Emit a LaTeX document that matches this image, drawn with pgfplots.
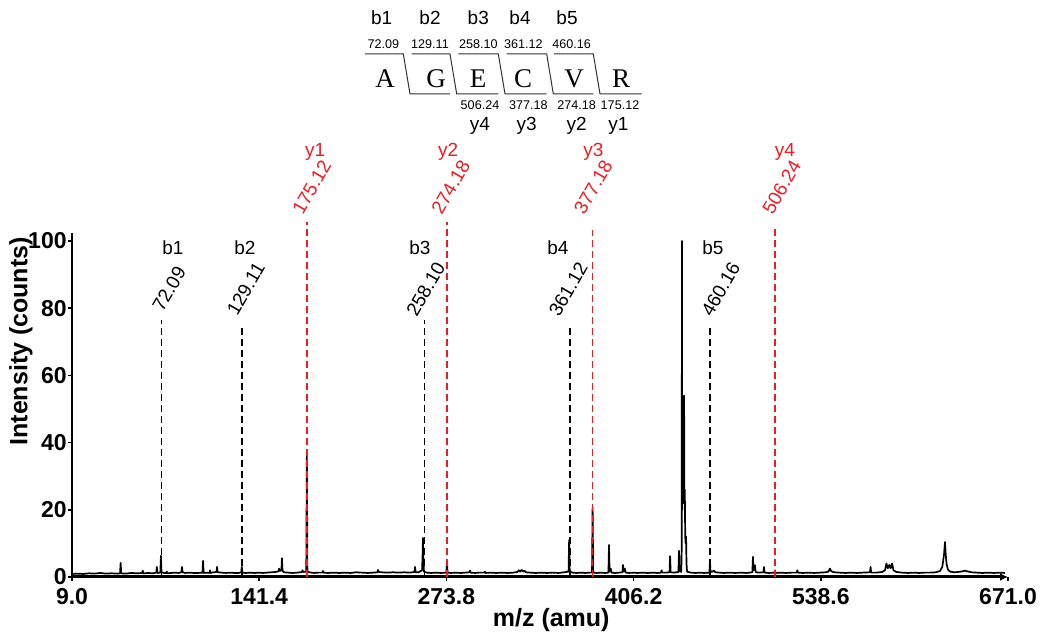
\documentclass[border=0pt]{standalone}
\usepackage{fontspec}
\setmainfont{Liberation Sans}
\newfontfamily\seriffont{Liberation Serif}
\usepackage{pgfplots}
\pgfplotsset{compat=1.18}
\usetikzlibrary{arrows.meta}
\definecolor{ionred}{RGB}{237,28,36}
\definecolor{diag}{RGB}{50,50,50}

\begin{document}
\begin{tikzpicture}
% page = 1053 x 635 px at 0.5pt per px, axis corner at px (72,577)
\useasboundingbox (-36pt,-29pt) rectangle (490.5pt,288.5pt);

\begin{axis}[
  scale only axis, width=468pt, height=172pt,
  xmin=9, xmax=671, ymin=0, ymax=102.4,
  axis lines=left, clip=false,
  x axis line style={line width=1.5pt, -{Latex[length=4pt,width=4pt]}},
  y axis line style={line width=0.9pt, -},
  xtick={9,141.4,273.8,406.2,538.6,671},
  xticklabels={9.0,141.4,273.8,406.2,538.6,671.0},
  ytick={0,20,40,60,80,100},
  tick align=outside, major tick length=2pt,
  tick style={black, line width=0.8pt},
  /pgf/number format/assume math mode=true,
  ticklabel style={font=\fontsize{11.5}{12}\selectfont\bfseries},
  yticklabel style={inner sep=0.5pt},
  xticklabel style={inner sep=0pt, yshift=-3.5pt},
  xlabel={m/z (amu)}, ylabel={Intensity (counts)},
  xlabel style={font=\fontsize{12.5}{13}\selectfont\bfseries,
    at={(axis description cs:0.512,-0.125)}, anchor=center},
  ylabel style={font=\fontsize{12.5}{13}\selectfont\bfseries,
    at={(axis description cs:-0.0545,0.685)}, anchor=center},
  ann/.style={line width=0.7pt, dash pattern=on 3.5pt off 2pt},
]

% spectrum
\addplot[black, line width=0.85pt, line join=round] coordinates {
(9,0.9)(13,1.0)(17,0.9)(21,1.1)(25,1.0)(29,1.2)(33,1.0)(37,1.1)(41,1.0)
(43.0,1.1)(43.4,4.2)(43.8,1.1)(47,1.0)(51,1.2)(55,1.1)
(58.6,1.2)(59,1.9)(59.4,1.1)(63,1.2)(66,1.1)
(68.6,1.3)(69,3.0)(69.4,1.2)(71.5,1.3)(71.9,6.3)(72.3,1.4)
(74,1.2)(75.6,1.2)(76,1.6)(76.4,1.1)(79,1.2)(82,1.3)(84.5,1.2)
(86.4,1.4)(86.8,3.0)(87.2,1.4)(89,1.2)(92,1.3)(95,1.2)(98,1.2)
(101.3,1.3)(101.7,4.8)(102.1,1.2)(104,1.3)(106.2,1.2)(106.6,2.0)(107,1.2)
(109,1.4)(111.2,1.5)(111.6,3.0)(112,1.4)(115,1.3)(118,1.2)(121,1.3)(124,1.2)
(127,1.2)(128.7,1.4)(129.1,3.0)(129.5,1.3)(132,1.2)(135,1.3)(138,1.2)(141,1.3)
(144,1.2)(147,1.3)(150,1.4)(153,1.5)(155.1,1.7)(155.5,2.5)(156,1.8)
(157.1,2.0)(157.5,5.6)(157.9,1.8)(159,1.4)(162,1.3)(165,1.2)(168,1.3)
(170,1.4)(171.6,1.4)(172,2.0)(172.4,1.5)(174.7,1.6)(175.1,36)(175.5,1.6)
(177,1.4)(180,1.2)(183,1.3)(186.1,1.3)(186.5,1.8)(186.9,1.3)
(190,1.2)(194,1.3)(198,1.2)(202,1.3)(206,1.2)(210,1.4)(214,1.3)(218,1.2)(222,1.3)
(225,1.4)(225.4,2.1)(225.8,1.5)(228,1.4)(232,1.3)(236,1.4)(240,1.3)(244,1.4)(248,1.3)
(251.2,1.5)(251.6,3.0)(252,1.4)(254,1.4)(256.6,2.0)(257.0,7.0)(257.2,11.6)(257.5,6.0)(257.9,1.6)
(260,1.3)(263,1.2)(266,1.3)(270,1.2)(273.8,1.3)(274.2,4.5)(274.6,1.3)
(277,1.2)(280,1.3)(284,1.2)(287,1.3)(290.1,1.4)(290.5,1.9)(290.9,1.3)
(294,1.2)(297,1.3)(300.6,1.3)(301,1.6)(301.4,1.2)(305,1.3)(309,1.2)(313,1.3)(317,1.2)(321,1.3)
(324,1.5)(325,2.0)(326,1.6)(327,2.1)(328,1.6)(329,1.9)(330,1.4)
(333,1.3)(337,1.2)(341,1.3)(345,1.2)(349,1.3)(353,1.2)(357,1.4)
(360.2,1.6)(360.6,11.0)(361.0,1.6)(363,1.3)(366,1.2)(369,1.3)(372,1.2)(375,1.3)
(376.8,1.3)(377.2,20.6)(377.6,1.3)(380,1.2)(383,1.3)(386,1.2)
(388.4,1.3)(388.8,9.5)(389.2,1.6)(390,2.5)(390.6,1.3)(393,1.2)(396,1.3)
(398.3,1.4)(398.7,3.6)(399.1,1.6)(400,2.5)(400.6,1.3)
(403,1.2)(406,1.3)(409,1.2)(412,1.3)(416,1.2)(420,1.3)(423,1.2)
(425.6,1.3)(426,2.0)(426.4,1.3)(429,1.3)(431.6,1.4)(432,6.2)(432.4,1.4)
(435,1.3)(437.9,1.5)(438.3,7.8)(438.7,1.8)
(439.9,1.5)(440.2,8)(440.4,100)(440.6,20)(440.8,29)(441.0,24)(441.2,28)(441.4,22)
(441.6,27)(441.9,54)(442.1,24)(442.4,26)(442.7,12)(443.0,10)(443.3,12)(443.6,4)(444,1.6)
(444.5,1.5)(447,1.3)(450,1.2)(453,1.3)(456,1.2)
(459.8,1.3)(460.2,4.5)(460.6,1.5)(462,1.6)(463,1.9)(464,1.4)
(467,1.3)(470,1.2)(474,1.3)(478,1.2)(482,1.3)(486,1.2)
(490.2,1.4)(490.6,6.0)(491,2.0)(492,3.5)(492.6,1.4)(495,1.3)(498,1.4)(498.4,3.0)(498.8,1.3)
(502,1.2)(505.8,1.3)(506.2,2.0)(506.6,1.2)(510,1.3)(514,1.2)(518,1.3)
(521.6,1.3)(522,2.0)(522.4,1.3)(526,1.2)(530,1.3)(534,1.2)(538,1.3)(542,1.4)
(544,1.6)(545,2.5)(546,1.7)(548,1.4)(552,1.3)(556,1.2)(560,1.3)(564,1.2)(568,1.3)
(573.4,1.4)(573.8,3.0)(574.2,1.3)(578,1.3)(582,1.5)
(584,2.0)(585,4.0)(586,2.6)(587,3.6)(588,2.6)(589,4.0)(590,2.0)(592,1.5)
(596,1.3)(600,1.2)(604,1.3)(608,1.2)(612,1.3)(616,1.3)(620,1.4)
(623,1.8)(624.5,3.0)(625.2,5.0)(625.8,7.0)(626.4,10.4)(626.9,7.0)(627.5,4.0)(628.5,2.2)(630,1.6)
(633,1.4)(636,1.5)(639,1.7)(640.5,1.9)(642,1.7)(645,1.4)
(649,1.3)(653,1.2)(657,1.3)(661,1.2)(665,1.3)(668.8,1.2)
};

% b ions
\addplot[black, ann] coordinates {(72.09,0)(72.09,76.5)};
\addplot[black, ann] coordinates {(129.11,0)(129.11,74.1)};
\addplot[black, ann] coordinates {(258.10,0)(258.10,76.5)};
\addplot[black, ann] coordinates {(361.12,0)(361.12,74.1)};
\addplot[black, ann] coordinates {(460.16,0)(460.16,74.1)};
% y ions
\addplot[ionred, ann] coordinates {(175.12,0)(175.12,105.7)};
\addplot[ionred, ann] coordinates {(274.18,0)(274.18,105.7)};
\addplot[ionred, ann] coordinates {(377.18,0)(377.18,103.3)};
\addplot[ionred, ann] coordinates {(506.24,0)(506.24,104)};

\begin{scope}[every node/.style={font=\fontsize{9.5}{10}\selectfont, inner sep=0.5pt}]
\node at (axis cs:80.4,97.9) {b1};
\node at (axis cs:131.3,97.9) {b2};
\node at (axis cs:255.1,97.9) {b3};
\node at (axis cs:352.7,97.9) {b4};
\node at (axis cs:462.3,97.9) {b5};
\node[rotate=60] at (axis cs:77.7,85.7) {72.09};
\node[rotate=60] at (axis cs:131.9,85.7) {129.11};
\node[rotate=60] at (axis cs:259.2,85.7) {258.10};
\node[rotate=60] at (axis cs:360.0,85.7) {361.12};
\node[rotate=60] at (axis cs:467.8,85.7) {460.16};
\node[text=ionred] at (axis cs:180.9,126.5) {y1};
\node[text=ionred] at (axis cs:275.1,126.5) {y2};
\node[text=ionred] at (axis cs:377.7,126.5) {y3};
\node[text=ionred] at (axis cs:513.2,126.5) {y4};
\node[rotate=60, text=ionred] at (axis cs:178.5,116.1) {175.12};
\node[rotate=60, text=ionred] at (axis cs:276.9,116.1) {274.18};
\node[rotate=60, text=ionred] at (axis cs:377.7,116.1) {377.18};
\node[rotate=60, text=ionred] at (axis cs:510.9,116.1) {506.24};
\end{scope}
\end{axis}

% peptide fragment map, drawn in picture pixels
\begin{scope}[x=0.5pt, y=-0.5pt, xshift=-36pt, yshift=288.5pt]
\draw[diag, line width=0.5pt]
  (365,54) -- (403.3,54) -- (410,94) -- (450,94)
  (411.7,54) -- (450,54) -- (456.7,94) -- (498.3,94)
  (458.3,54) -- (498.3,54) -- (505,94) -- (546.7,94)
  (506.7,54) -- (546.7,54) -- (553.3,94) -- (593.3,94)
  (554,54) -- (593.3,54) -- (600,94) -- (641.7,94);
\begin{scope}[every node/.style={font=\seriffont\fontsize{13.5}{14}\selectfont}]
\node at (385,79) {A};
\node at (436,79) {G};
\node at (478,79) {E};
\node at (523,79) {C};
\node at (574,79) {V};
\node at (621,79) {R};
\end{scope}
\begin{scope}[every node/.style={font=\fontsize{9.5}{10}\selectfont}]
\node at (381.7,18) {b1};
\node at (430,18) {b2};
\node at (478.3,18) {b3};
\node at (520,18) {b4};
\node at (567,18) {b5};
\node at (480,126) {y4};
\node at (526.7,126) {y3};
\node at (576.7,126) {y2};
\node at (618.3,126) {y1};
\end{scope}
\begin{scope}[every node/.style={font=\fontsize{6.3}{7}\selectfont, inner sep=0.5pt}]
\node at (383.3,44) {72.09};
\node at (430,44) {129.11};
\node at (478.3,44) {258.10};
\node at (523.3,44) {361.12};
\node at (571.7,44) {460.16};
\node at (480,105) {506.24};
\node at (528.3,105) {377.18};
\node at (576.7,105) {274.18};
\node at (620,105) {175.12};
\end{scope}
\end{scope}
\end{tikzpicture}
\end{document}
